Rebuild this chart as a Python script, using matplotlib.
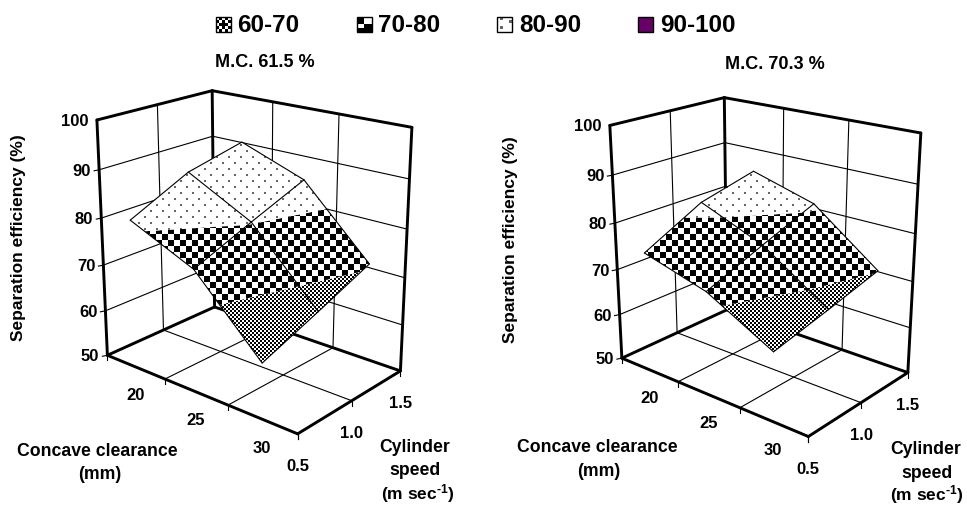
import numpy as np
import matplotlib
matplotlib.use('Agg')
import matplotlib.pyplot as plt
from matplotlib.path import Path
from matplotlib.patches import PathPatch, Rectangle

plt.rcParams['font.family'] = ['Liberation Sans', 'DejaVu Sans']
plt.rcParams['font.weight'] = 'bold'
plt.rcParams['mathtext.fontset'] = 'custom'
plt.rcParams['mathtext.rm'] = 'Liberation Sans:bold'
plt.rcParams['mathtext.default'] = 'regular'

clearance = ['20', '25', '30']
speed = [0.5, 1.0, 1.5]
z_ticks = [50, 60, 70, 80, 90, 100]
bands = [(60, 70), (70, 80), (80, 90), (90, 100)]
band_labels = ['60-70', '70-80', '80-90', '90-100']

# separation efficiency, rows = clearance, columns = speed
eff_615 = [[81.4, 87.3, 90.1],
           [75.4, 80.3, 85.0],
           [61.4, 66.0, 70.8]]
eff_703 = [[75.6, 82.0, 85.0],
           [71.8, 76.5, 81.0],
           [64.4, 67.2, 70.2]]

W, H = 967, 505
THICK = 2.1
THIN = 0.8

# where the plot box corners land on the page, (u, v, w) -> pixel
box_left = {(0, 0, 0): (107, 356), (1, 0, 0): (298, 433), (1, 1, 0): (400, 372), (0, 1, 0): (215, 306),
            (0, 0, 1): (97, 120), (0, 1, 1): (212, 91), (1, 1, 1): (412, 127)}
box_right = {(0, 0, 0): (622, 359), (1, 0, 0): (808, 436), (1, 1, 0): (908, 373), (0, 1, 0): (727, 309),
             (0, 0, 1): (610, 125), (0, 1, 1): (724, 98), (1, 1, 1): (921, 133)}


def fit_camera(corners):
    rows = []
    for (u, v, w), (px, py) in corners.items():
        rows.append([u, v, w, 1, 0, 0, 0, 0, -px * u, -px * v, -px * w, -px])
        rows.append([0, 0, 0, 0, u, v, w, 1, -py * u, -py * v, -py * w, -py])
    return np.linalg.svd(np.array(rows, float))[2][-1].reshape(3, 4)


def project(cam, u, v, z):
    p = cam @ np.array([u, v, (z - 50) / 50, 1.0])
    return p[0] / p[2], p[1] / p[2]


def clip_z(pts, limit, keep_above):
    # clip a polygon of (u, v, z) against a z level
    out = []
    for a, b in zip(pts, pts[1:] + pts[:1]):
        a_in = a[2] >= limit if keep_above else a[2] <= limit
        b_in = b[2] >= limit if keep_above else b[2] <= limit
        if a_in:
            out.append(a)
        if a_in != b_in:
            t = (limit - a[2]) / (b[2] - a[2])
            out.append((a[0] + t * (b[0] - a[0]), a[1] + t * (b[1] - a[1]), limit))
    return out


# fill patterns, on the page pixel grid
yy, xx = np.mgrid[0:H, 0:W]
checks_big = ((xx // 6 + yy // 6) % 2).astype(float)
checks_small = ((xx // 2 + yy // 2) % 2).astype(float)
dots = np.ones((H, W))
dots[((xx % 12 < 2) & (yy % 12 < 2)) | (((xx + 6) % 12 < 2) & ((yy + 6) % 12 < 2))] = 0.4
patterns = [checks_small, checks_big, dots, None]

swatches = [np.array([[1, 0, 1, 0, 1], [0, 1, 0, 1, 0], [1, 0, 0, 0, 1], [0, 1, 0, 1, 0], [1, 0, 1, 0, 1]], float),
            np.array([[0, 0, 1, 1], [0, 0, 1, 1], [1, 1, 0, 0], [0, 0, 0, 0]], float),
            np.array([[1, .4, 1, 1, 1], [1, 1, 1, 1, .4], [1, 1, 1, 1, 1], [1, .4, 1, 1, 1], [1, 1, 1, 1, 1]], float),
            None]

fig = plt.figure(figsize=(W / 100, H / 100), dpi=100)
ax = fig.add_axes([0, 0, 1, 1])
ax.set_axis_off()


def line(cam, a, b, lw, zorder=1):
    pa, pb = project(cam, *a), project(cam, *b)
    ax.plot([pa[0], pb[0]], [pa[1], pb[1]], color='black', lw=lw, zorder=zorder, solid_capstyle='round')


def draw_panel(corners, eff):
    cam = fit_camera(corners)
    n_c = len(clearance)
    n_s = len(speed)
    cu = [(i + 0.5) / n_c for i in range(n_c)]
    sv = [(s - speed[0]) / (speed[-1] - speed[0]) for s in speed]

    # walls and floor
    for z in z_ticks[:-1]:
        line(cam, (0, 0, z), (0, 1, z), THIN)
        line(cam, (0, 1, z), (1, 1, z), THIN)
        tick = project(cam, 0, 0, z)
        ax.plot([tick[0] - 5, tick[0]], [tick[1] + 1, tick[1]], color='black', lw=THIN, zorder=1)
    line(cam, (0, .5, 50), (0, .5, 100), THIN)
    line(cam, (0, .5, 50), (1, .5, 50), THIN)
    for i in range(1, n_c):
        u = i / n_c
        line(cam, (u, 1, 50), (u, 1, 100), THIN)
        line(cam, (u, 0, 50), (u, 1, 50), THIN)
    line(cam, (0, 0, 50), (0, 1, 50), THICK)
    line(cam, (0, 1, 50), (1, 1, 50), THICK)
    line(cam, (0, 0, 50), (1, 0, 50), THICK, 4)
    line(cam, (1, 0, 50), (1, 1, 50), THICK, 4)
    line(cam, (0, 0, 100), (0, 1, 100), THICK)
    line(cam, (0, 1, 100), (1, 1, 100), THICK)
    line(cam, (0, 0, 50), (0, 0, 100), THICK)
    line(cam, (0, 1, 50), (0, 1, 100), THICK)
    line(cam, (1, 1, 50), (1, 1, 100), THICK)

    # small ticks under the front edges
    for i in range(n_c + 1):
        p = project(cam, i / n_c, 0, 50)
        ax.plot([p[0], p[0]], [p[1], p[1] + 5], color='black', lw=THIN, zorder=4)
    for v in sv:
        p = project(cam, 1, v, 50)
        ax.plot([p[0], p[0]], [p[1], p[1] + 5], color='black', lw=THIN, zorder=4)

    # surface, one band at a time
    for band, pattern in zip(bands, patterns):
        verts, codes = [], []
        for i in range(n_c - 1):
            for j in range(n_s - 1):
                quad = [(cu[i], sv[j], eff[i][j]), (cu[i + 1], sv[j], eff[i + 1][j]),
                        (cu[i + 1], sv[j + 1], eff[i + 1][j + 1]), (cu[i], sv[j + 1], eff[i][j + 1])]
                poly = clip_z(quad, band[0], True)
                if poly:
                    poly = clip_z(poly, band[1], False)
                if len(poly) < 3:
                    continue
                pts = [project(cam, *q) for q in poly]
                verts += pts + [pts[0]]
                codes += [Path.MOVETO] + [Path.LINETO] * (len(pts) - 1) + [Path.CLOSEPOLY]
        if not verts:
            continue
        path = Path(verts, codes)
        if pattern is None:
            ax.add_patch(PathPatch(path, facecolor='#660066', edgecolor='none', zorder=2))
        else:
            patch = PathPatch(path, facecolor='none', edgecolor='none', transform=ax.transData)
            ax.add_patch(patch)
            im = ax.imshow(pattern, cmap='gray', vmin=0, vmax=1, extent=(0, W, H, 0), aspect='auto',
                           interpolation='nearest', zorder=2)
            im.set_clip_path(patch)

    # mesh lines on the surface
    for i in range(n_c):
        for j in range(n_s):
            if i < n_c - 1:
                line(cam, (cu[i], sv[j], eff[i][j]), (cu[i + 1], sv[j], eff[i + 1][j]), THIN, 3)
            if j < n_s - 1:
                line(cam, (cu[i], sv[j], eff[i][j]), (cu[i], sv[j + 1], eff[i][j + 1]), THIN, 3)

    # tick labels
    for z in z_ticks:
        p = project(cam, 0, 0, z)
        ax.text(p[0] - 8, p[1] + 1.5, str(z), ha='right', va='center', fontsize=12, zorder=5)
    for u, name in zip(cu, clearance):
        p = project(cam, u, 0, 50)
        ax.text(p[0], p[1] + 29, name, ha='center', va='center', fontsize=12, zorder=5)
    for v, s in zip(sv, speed):
        p = project(cam, 1, v, 50)
        ax.text(p[0], p[1] + 33, f'{s:.1f}', ha='center', va='center', fontsize=12, zorder=5)


draw_panel(box_left, eff_615)
draw_panel(box_right, eff_703)

# legend across the top
swatch_x = [216, 357, 497, 638]
label_x = [237, 378, 519, 660]
for sx, lx, sw, name in zip(swatch_x, label_x, swatches, band_labels):
    if sw is None:
        ax.add_patch(Rectangle((sx, 17), 15, 15, facecolor='#660066', edgecolor='black', lw=1))
    else:
        ax.imshow(sw, cmap='gray', vmin=0, vmax=1, extent=(sx, sx + 15, 32, 17), aspect='auto',
                  interpolation='nearest', zorder=2)
        ax.add_patch(Rectangle((sx, 17), 15, 15, facecolor='none', edgecolor='black', lw=1, zorder=3))
    ax.text(lx, 25.5, name, ha='left', va='center', fontsize=17.5)

# titles and axis labels
ax.text(265, 62.5, 'M.C. 61.5 %', ha='center', va='center', fontsize=13)
ax.text(775, 64.5, 'M.C. 70.3 %', ha='center', va='center', fontsize=13)
ax.text(19, 238, 'Separation efficiency (%)', rotation=90, ha='center', va='center', fontsize=12.5)
ax.text(510, 240, 'Separation efficiency (%)', rotation=90, ha='center', va='center', fontsize=12.5)

ax.text(97, 451.5, 'Concave clearance', ha='center', va='center', fontsize=12.7)
ax.text(100, 474.5, '(mm)', ha='center', va='center', fontsize=12.7)
ax.text(597, 447.5, 'Concave clearance', ha='center', va='center', fontsize=12.7)
ax.text(599, 471.5, '(mm)', ha='center', va='center', fontsize=12.7)

ax.text(415, 447.5, 'Cylinder', ha='center', va='center', fontsize=12.7)
ax.text(415, 470.5, 'speed', ha='center', va='center', fontsize=12.7)
ax.text(418, 494, r'(m sec$^{\text{-1}}$)', ha='center', va='center', fontsize=12.5)
ax.text(926, 449.5, 'Cylinder', ha='center', va='center', fontsize=12.7)
ax.text(927, 473.5, 'speed', ha='center', va='center', fontsize=12.7)
ax.text(927, 495, r'(m sec$^{\text{-1}}$)', ha='center', va='center', fontsize=12.5)

ax.set_xlim(0, W)
ax.set_ylim(H, 0)
fig.savefig('out.png', dpi=100)
